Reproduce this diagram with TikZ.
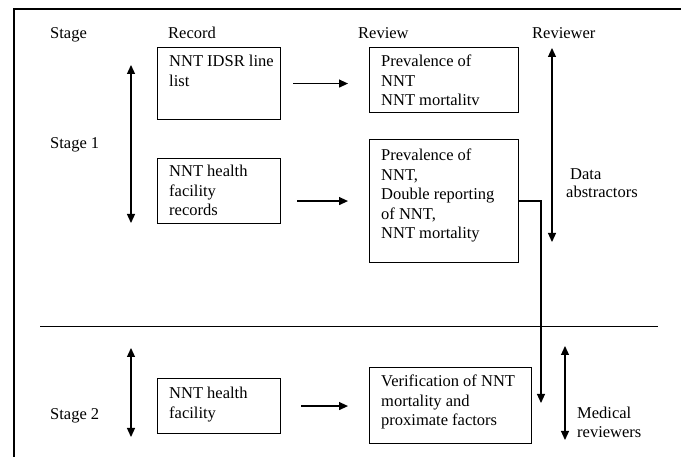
\documentclass[tikz,border=0pt]{standalone}
\usepackage{fontspec}
\setmainfont{Liberation Serif}
\usetikzlibrary{arrows.meta,calc}
\begin{document}
\begin{tikzpicture}[x=1pt,y=-1pt,
  fnt/.style={font=\fontsize{16.5}{19.4}\selectfont},
  boxa/.style={draw, line width=1.1pt, inner sep=0pt, anchor=north west},
  txt/.style={fnt, align=left, anchor=north west, inner sep=0pt},
  lbl/.style={fnt, anchor=base west, inner sep=0pt},
  tip/.style={Triangle[length=9pt,width=8pt]},
  arr/.style={-{Triangle[length=9pt,width=8pt]}, line width=1.2pt},
  darr/.style={{Triangle[length=9pt,width=8pt]}-{Triangle[length=9pt,width=8pt]}, line width=1.2pt}]
\useasboundingbox (0,0) rectangle (681,457);
% frame
\coordinate (fa) at (14,457);
\coordinate (fb) at (14,9);
\coordinate (fc) at (681,9);
\draw[line width=2.4pt] (fa) -- (fb) -- (fc);
% headers
\node[lbl] (hstage) at (50,39) {Stage};
\node[lbl] (hrecord) at (168,39) {Record};
\node[lbl] (hreview) at (358,39) {Review};
\node[lbl] (hreviewer) at (532,39) {Reviewer};
\node[lbl] (st1) at (50,149) {Stage 1};
\node[lbl] (st2) at (50,420) {Stage 2};
% boxes
\node[boxa, minimum width=123pt, minimum height=72pt] (b1) at (157,47) {};
\node[boxa, minimum width=149pt, minimum height=65pt] (b2) at (369,47) {};
\node[boxa, minimum width=123pt, minimum height=65pt] (b3) at (157,158) {};
\node[boxa, minimum width=149pt, minimum height=123pt] (b4) at (369,139) {};
\node[boxa, minimum width=123pt, minimum height=55pt] (b5) at (157,378) {};
\node[boxa, minimum width=162pt, minimum height=76pt] (b6) at (369,367) {};
% box texts
\node[txt] (t1) at (169,55) {NNT IDSR line\\list};
\node[txt] (t2) at (381,55) {Prevalence of\\NNT\\NNT mortalitv};
\node[txt] (t3) at (169,165) {NNT health\\facility\\records};
\node[txt] (t4) at (381,149) {Prevalence of\\NNT,\\Double reporting\\of NNT,\\NNT mortality};
\node[txt] (t5) at (169,387) {NNT health\\facility};
\node[txt] (t6) at (381,375) {Verification of NNT\\mortality and\\proximate factors};
% horizontal arrows
\draw[arr, shorten <=12pt, shorten >=21pt] (b1.east) -- (b1.east -| b2.west);
\draw[arr, shorten <=16pt, shorten >=21pt] (b3.east |- b4.west) -- (b4.west);
\draw[arr, shorten <=20pt, shorten >=21pt] (b5.east) -- (b5.east -| b6.west);
% stage arrows
\coordinate (s1t) at (131,65);
\coordinate (s1b) at (131,223);
\coordinate (s2t) at (131,348);
\coordinate (s2b) at (131,437);
\draw[darr] (s1t) -- (s1b);
\draw[darr] (s2t) -- (s2b);
% reviewer arrows
\coordinate (dat) at (552,48);
\coordinate (dab) at (552,242);
\coordinate (met) at (565,346);
\coordinate (meb) at (565,440);
\draw[darr] (dat) -- (dab);
\draw[darr] (met) -- (meb);
\node[lbl] (lda1) at (570,180) {Data};
\node[lbl] (lda2) at (566,198) {abstractors};
\node[lbl] (lme1) at (577,419) {Medical};
\node[lbl] (lme2) at (577,438) {reviewers};
% divider
\coordinate (hl1) at (40,327);
\coordinate (hl2) at (658,327);
\draw[line width=1pt] (hl1) -- (hl2);
% elbow connector
\coordinate (cn) at (541,403);
\draw[arr, line width=1.1pt] (b4.east) -| (cn);
\end{tikzpicture}
\end{document}
